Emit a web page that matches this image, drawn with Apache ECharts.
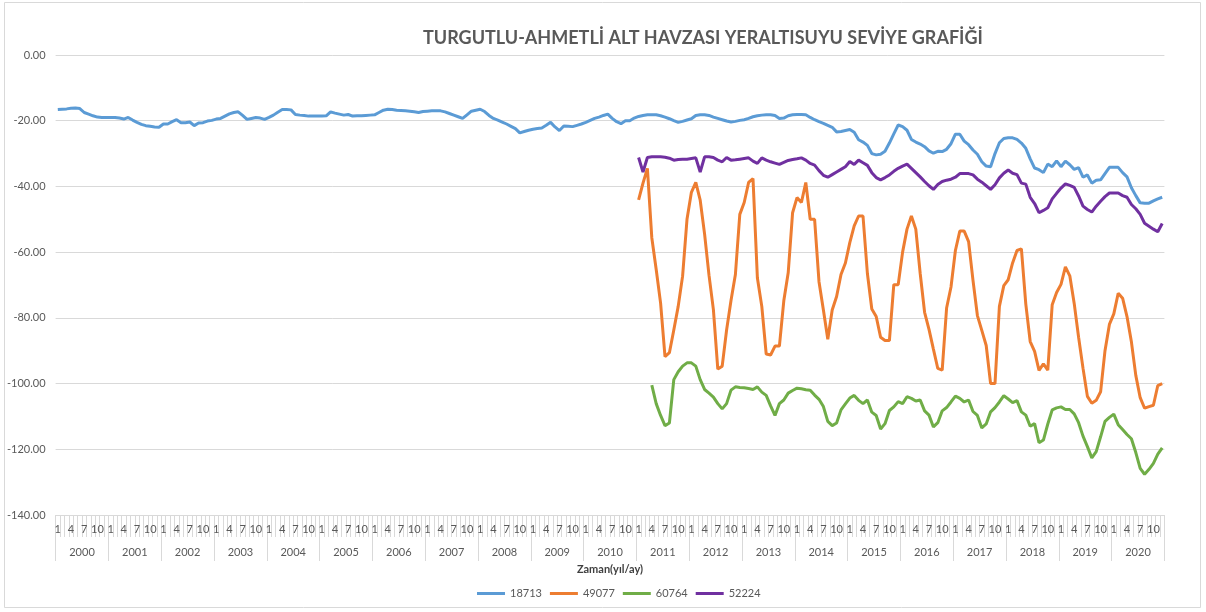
<!DOCTYPE html>
<html>
<head>
<meta charset="utf-8">
<script src="https://cdn.jsdelivr.net/npm/echarts@6/dist/echarts.min.js"></script>
<style>
	html, body { margin: 0; padding: 0; background: #fff; }
	#chart1 { width: 1206px; height: 612px; }
</style>
</head>
<body>
<div id="chart1"></div>
<script>
var years = ['2000', '2001', '2002', '2003', '2004', '2005', '2006', '2007', '2008', '2009', '2010',
	'2011', '2012', '2013', '2014', '2015', '2016', '2017', '2018', '2019', '2020'];
var months = ['1', '2', '3', '4', '5', '6', '7', '8', '9', '10', '11', '12'];
var shownMonths = ['1', '4', '7', '10'];
var yTicks = [0, -20, -40, -60, -80, -100, -120, -140];

// 18713: 2000/1 - 2020/12
var s18713 = [
	-16.6, -16.5, -16.4, -16.2, -16.1, -16.3, -17.5, -18.0, -18.5, -18.9, -19.0, -19.0,
	-19.0, -19.0, -19.2, -19.5, -19.0, -19.8, -20.5, -21.1, -21.5, -21.7, -21.9, -22.0,
	-21.0, -21.0, -20.3, -19.7, -20.6, -20.6, -20.4, -21.5, -20.7, -20.6, -20.1, -19.9,
	-19.5, -19.3, -18.6, -17.9, -17.5, -17.3, -18.4, -19.6, -19.3, -19.0, -19.2, -19.6,
	-19.0, -18.3, -17.4, -16.6, -16.6, -16.7, -18.1, -18.3, -18.4, -18.6, -18.6, -18.6,
	-18.6, -18.5, -17.3, -17.7, -18.0, -18.3, -18.1, -18.6, -18.5, -18.5, -18.4, -18.3,
	-18.2, -17.5, -16.8, -16.5, -16.6, -16.8, -16.9, -17.0, -17.1, -17.3, -17.5, -17.2,
	-17.1, -17.0, -17.0, -17.0, -17.3, -17.8, -18.3, -18.8, -19.3, -18.2, -17.1, -16.8,
	-16.5, -17.2, -18.4, -19.3, -19.8, -20.4, -21.0, -21.7, -22.4, -23.7, -23.3, -22.9,
	-22.6, -22.4, -22.2, -21.4, -20.5, -21.9, -23.0, -21.6, -21.7, -21.8, -21.4, -21.0,
	-20.5, -19.9, -19.3, -18.9, -18.4, -18.0, -19.3, -20.3, -20.9, -20.0, -20.0, -19.2,
	-18.7, -18.4, -18.2, -18.2, -18.2, -18.5, -18.9, -19.4, -20.0, -20.5, -20.2, -19.8,
	-19.4, -18.4, -18.2, -18.2, -18.4, -18.9, -19.3, -19.7, -20.1, -20.4, -20.2, -19.9,
	-19.7, -19.3, -18.8, -18.5, -18.3, -18.2, -18.2, -18.4, -19.3, -19.2, -18.5, -18.2,
	-18.1, -18.1, -18.2, -19.0, -19.7, -20.3, -20.8, -21.4, -22.0, -23.4, -23.3, -23.0,
	-22.7, -23.5, -25.8, -26.5, -27.5, -30.0, -30.4, -30.2, -29.3, -26.8, -24.0, -21.3,
	-21.8, -22.9, -25.7, -26.5, -27.1, -27.9, -29.2, -29.9, -29.3, -29.4, -28.7, -27.0,
	-24.1, -24.1, -26.2, -27.3, -28.9, -30.2, -32.5, -33.8, -34.0, -30.0, -26.7, -25.4,
	-25.2, -25.2, -25.7, -26.8, -28.4, -31.6, -34.4, -34.9, -35.8, -33.2, -34.0, -32.2,
	-34.0, -32.3, -33.4, -34.8, -34.3, -37.2, -36.5, -39.0, -38.1, -38.0, -36.1, -34.2,
	-34.2, -34.2, -35.8, -37.1, -40.4, -42.8, -45.0, -45.1, -45.1, -44.4, -43.8, -43.3
];

// 49077: 2011/1 - 2020/12
var s49077 = [
	-44.1, -39.0, -34.5, -55.6, -65.3, -75.5, -91.8, -90.6, -83.7, -76.5, -67.3, -50.0,
	-41.8, -38.8, -44.2, -54.5, -67.0, -77.5, -95.6, -94.7, -83.7, -74.7, -66.8, -48.5,
	-44.9, -38.8, -37.6, -67.9, -76.5, -91.0, -91.3, -88.6, -88.6, -74.8, -66.3, -48.0,
	-43.4, -44.9, -38.8, -50.0, -50.0, -69.0, -77.6, -86.5, -77.6, -73.5, -66.8, -63.3,
	-57.1, -52.0, -49.0, -49.0, -66.5, -77.3, -79.6, -85.9, -86.9, -86.9, -69.9, -69.9,
	-60.0, -53.0, -49.0, -53.0, -66.5, -78.3, -83.5, -89.5, -95.4, -95.9, -77.0, -70.6,
	-59.5, -53.6, -53.6, -56.8, -68.6, -79.3, -83.8, -88.4, -100.0, -100.0, -76.5, -70.2,
	-68.4, -63.3, -59.5, -59.0, -75.8, -87.2, -90.2, -96.0, -94.0, -95.9, -76.0, -72.3,
	-69.8, -64.5, -67.2, -75.6, -85.9, -95.3, -103.9, -106.0, -105.1, -102.5, -90.0, -82.0,
	-78.8, -72.5, -74.0, -79.6, -87.3, -97.5, -104.3, -107.5, -107.0, -106.6, -100.6, -100.0
];

// 60764: 2011/4 - 2020/12
var s60764 = [
	-100.5, -106.1, -109.7, -112.8, -112.0, -98.8, -96.4, -94.7, -93.7,
	-93.7, -94.7, -98.8, -101.8, -102.9, -104.1, -106.1, -107.7, -106.1, -102.0, -101.0, -101.2,
	-101.3, -101.5, -101.8, -101.0, -102.6, -103.6, -106.8, -109.7, -106.1, -105.0, -102.9, -102.1,
	-101.4, -101.6, -101.9, -102.0, -103.5, -104.8, -107.0, -111.5, -112.8, -112.0, -108.0, -106.2,
	-104.4, -103.6, -105.1, -106.1, -105.0, -108.7, -109.7, -113.8, -112.2, -108.2, -107.1, -105.5,
	-106.1, -104.0, -104.5, -105.3, -105.0, -108.3, -109.6, -113.2, -111.9, -108.3, -107.3, -105.6,
	-103.8, -104.5, -105.6, -105.0, -108.5, -109.7, -113.5, -112.3, -108.6, -107.3, -105.6, -103.7,
	-104.7, -105.8, -105.2, -108.6, -109.6, -113.0, -112.2, -118.0, -117.2, -112.3, -108.0, -107.4,
	-107.1, -107.9, -107.9, -109.2, -111.9, -116.0, -119.2, -122.6, -120.7, -116.2, -111.5, -110.3,
	-109.3, -112.5, -114.0, -115.5, -116.8, -121.0, -125.8, -127.6, -126.1, -124.3, -121.5, -119.6
];

// 52224: 2011/1 - 2020/12
var s52224 = [
	-31.2, -35.6, -31.2, -31.0, -31.0, -31.0, -31.1, -31.4, -32.0, -31.8, -31.7, -31.7,
	-31.5, -31.3, -35.6, -31.0, -31.0, -31.2, -32.0, -32.5, -31.2, -32.0, -31.9, -31.7,
	-31.5, -31.3, -32.3, -33.0, -31.3, -32.0, -32.5, -32.9, -33.3, -32.7, -32.1, -31.8,
	-31.6, -31.3, -32.0, -33.0, -33.5, -35.2, -36.6, -37.2, -36.4, -35.6, -34.8, -34.0,
	-32.4, -33.3, -32.0, -32.8, -33.6, -35.8, -37.3, -38.0, -37.3, -36.5, -35.4, -34.5,
	-33.8, -33.2, -34.5, -35.8, -37.1, -38.5, -39.8, -40.9, -39.4, -38.5, -38.1, -37.8,
	-37.2, -36.1, -36.1, -36.1, -36.5, -37.8, -38.7, -39.8, -40.9, -39.5, -37.4, -36.0,
	-35.0, -36.0, -36.4, -39.0, -39.3, -43.3, -45.2, -48.0, -47.3, -46.5, -43.8, -42.1,
	-40.5, -39.2, -39.7, -40.3, -42.9, -46.0, -47.0, -47.8, -46.0, -44.5, -43.1, -42.0,
	-42.0, -42.0, -42.8, -43.3, -45.5, -46.8, -48.5, -51.2, -52.1, -53.0, -53.8, -51.3
];

var categories = [];
years.forEach(function (y) {
	months.forEach(function (m) {
		categories.push(y + '-' + m);
	});
});

// series that start later are padded with empty months in front
function padFront(arr) {
	var out = [];
	for (var i = 0; i < categories.length - arr.length; i++) out.push(null);
	return out.concat(arr);
}

var textColor = '#595959';
var fontName = 'Lato, "Open Sans", sans-serif';

var chart1 = echarts.init(document.getElementById('chart1'));

function lineSeries(name, data, color) {
	return {
		name: name,
		type: 'line',
		data: data,
		xAxisIndex: 0,
		showSymbol: false,
		symbol: 'none',
		connectNulls: false,
		lineStyle: { color: color, width: 3 },
		itemStyle: { color: color }
	};
}

var option = {
	backgroundColor: '#ffffff',
	animation: false,
	textStyle: { fontFamily: fontName },
	title: {
		text: 'TURGUTLU-AHMETLİ ALT HAVZASI YERALTISUYU SEVİYE GRAFİĞİ',
		left: 418,
		top: 24,
		textStyle: {
			color: textColor,
			fontSize: 18,
			fontWeight: 'bold',
			fontFamily: fontName
		}
	},
	graphic: [{
		type: 'rect',
		shape: { x: 4.5, y: 2.5, width: 1196, height: 605 },
		style: { fill: 'none', stroke: '#d9d9d9', lineWidth: 1 },
		silent: true
	}],
	legend: {
		left: 472,
		top: 583,
		icon: 'rect',
		itemWidth: 28,
		itemHeight: 3,
		itemGap: 8,
		textStyle: { color: textColor, fontSize: 11, fontFamily: fontName },
		data: ['18713', '49077', '60764', '52224']
	},
	grid: {
		left: 55.6,
		right: 41.6,
		top: 55,
		bottom: 97,
		containLabel: false,
		outerBoundsMode: 'none'
	},
	xAxis: [{
		type: 'category',
		data: categories,
		boundaryGap: true,
		name: 'Zaman(yıl/ay)',
		nameLocation: 'middle',
		nameGap: 49,
		nameTextStyle: { color: '#404040', fontSize: 11, fontWeight: 'bold', fontFamily: fontName },
		axisLine: { show: true, onZero: false, lineStyle: { color: '#d9d9d9' } },
		axisTick: { show: true, interval: 0, length: 22, lineStyle: { color: '#d9d9d9' } },
		axisLabel: {
			interval: function (idx) {
				return shownMonths.indexOf(months[idx % 12]) >= 0;
			},
			formatter: function (v) {
				return v.split('-')[1];
			},
			margin: 9,
			color: textColor,
			fontSize: 11,
			fontFamily: fontName
		},
		splitLine: { show: false }
	}, {
		type: 'category',
		data: years,
		position: 'bottom',
		boundaryGap: true,
		axisLine: { show: false, onZero: false },
		axisTick: { show: true, interval: 0, length: 46, lineStyle: { color: '#d9d9d9' } },
		axisLabel: {
			interval: 0,
			margin: 32,
			color: textColor,
			fontSize: 11,
			fontFamily: fontName
		},
		splitLine: { show: false }
	}],
	yAxis: {
		type: 'value',
		min: yTicks[yTicks.length - 1],
		max: yTicks[0],
		interval: 20,
		name: 'Zemine Göre Seviye(m)',
		nameLocation: 'middle',
		nameGap: 37,
		nameTextStyle: { color: '#404040', fontSize: 10, fontWeight: 'bold', fontFamily: fontName },
		axisLine: { show: false },
		axisTick: { show: false },
		axisLabel: {
			margin: 10,
			color: textColor,
			fontSize: 11,
			fontFamily: fontName,
			formatter: function (v) {
				return v.toFixed(2);
			}
		},
		splitLine: { lineStyle: { color: '#d9d9d9', width: 1 } }
	},
	series: [
		lineSeries('18713', s18713, '#5B9BD5'),
		lineSeries('49077', padFront(s49077), '#ED7D31'),
		lineSeries('60764', padFront(s60764), '#70AD47'),
		lineSeries('52224', padFront(s52224), '#7030A0')
	]
};

chart1.setOption(option);
</script>
</body>
</html>
